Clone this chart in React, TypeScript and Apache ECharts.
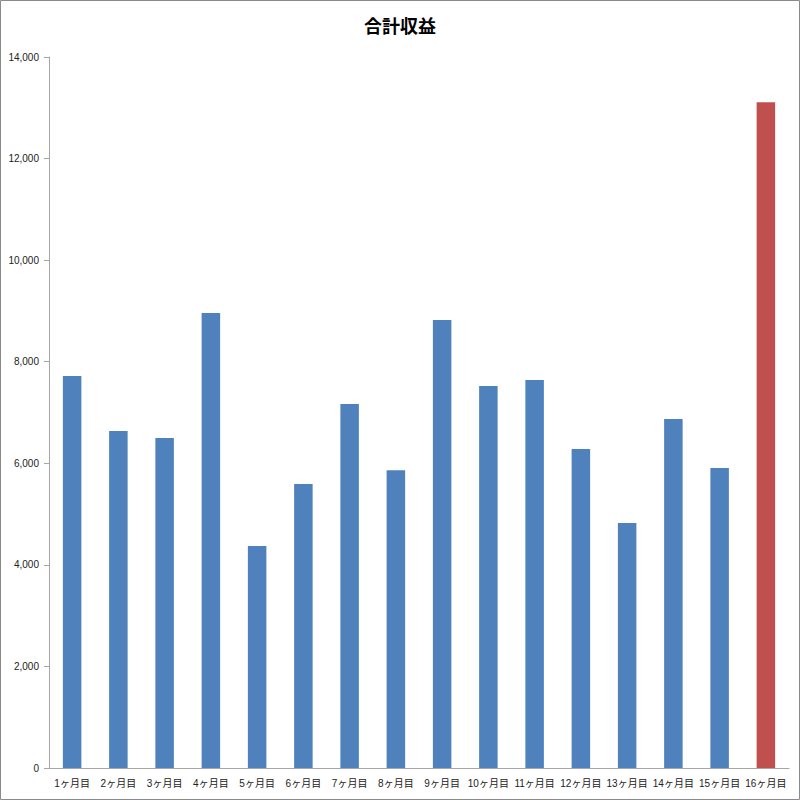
import React, { useEffect, useRef } from "react";
import * as echarts from "echarts";

const months = [
  "1ヶ月目", "2ヶ月目", "3ヶ月目", "4ヶ月目", "5ヶ月目", "6ヶ月目", "7ヶ月目", "8ヶ月目",
  "9ヶ月目", "10ヶ月目", "11ヶ月目", "12ヶ月目", "13ヶ月目", "14ヶ月目", "15ヶ月目", "16ヶ月目",
];
const totals = [
  7720, 6635, 6500, 8960, 4370, 5590, 7165, 5865,
  8820, 7520, 7640, 6280, 4825, 6870, 5905, 13110,
];
const highlightIndex = 15;

export default function App() {
  const ref = useRef<HTMLDivElement>(null);

  useEffect(() => {
    document.body.style.margin = "0";
    const chart = echarts.init(ref.current!, null, { renderer: "svg" });
    const font = "'Liberation Sans', Arial, 'Noto Sans CJK JP', sans-serif";
    chart.setOption({
      animation: false,
      backgroundColor: "#ffffff",
      title: {
        text: "合計収益",
        left: "center",
        top: 11,
        textStyle: {
          fontFamily: "'Noto Sans CJK JP', sans-serif",
          fontSize: 18,
          fontWeight: "bold",
          color: "#000",
        },
      },
      graphic: [
        {
          type: "rect",
          shape: { x: 0.5, y: 0.5, width: 799, height: 799 },
          style: { fill: "none", stroke: "#8a8a8a", lineWidth: 1 },
          silent: true,
        },
      ],
      grid: { left: 49, right: 11, top: 57, bottom: 32, containLabel: false },
      xAxis: {
        type: "category",
        data: months,
        axisLine: { lineStyle: { color: "#a6a6a6" } },
        axisTick: { length: 5, lineStyle: { color: "#a6a6a6" } },
        axisLabel: {
          fontFamily: font,
          fontSize: 10,
          color: "#222",
          margin: 10,
          interval: 0,
        },
      },
      yAxis: {
        type: "value",
        min: 0,
        max: 14000,
        interval: 2000,
        axisLine: { show: true, lineStyle: { color: "#a6a6a6" } },
        axisTick: { show: true, length: 5, lineStyle: { color: "#a6a6a6" } },
        splitLine: { show: false },
        axisLabel: {
          fontFamily: font,
          fontSize: 10,
          color: "#222",
          margin: 10,
          formatter: (v: number) => v.toLocaleString("en-US"),
        },
      },
      series: [
        {
          type: "bar",
          barWidth: "40%",
          data: totals.map((v, i) => ({
            value: v,
            itemStyle: { color: i === highlightIndex ? "#c0504d" : "#4f81bd" },
          })),
        },
      ],
    });
    return () => chart.dispose();
  }, []);

  return <div ref={ref} style={{ width: 800, height: 800 }} />;
}
